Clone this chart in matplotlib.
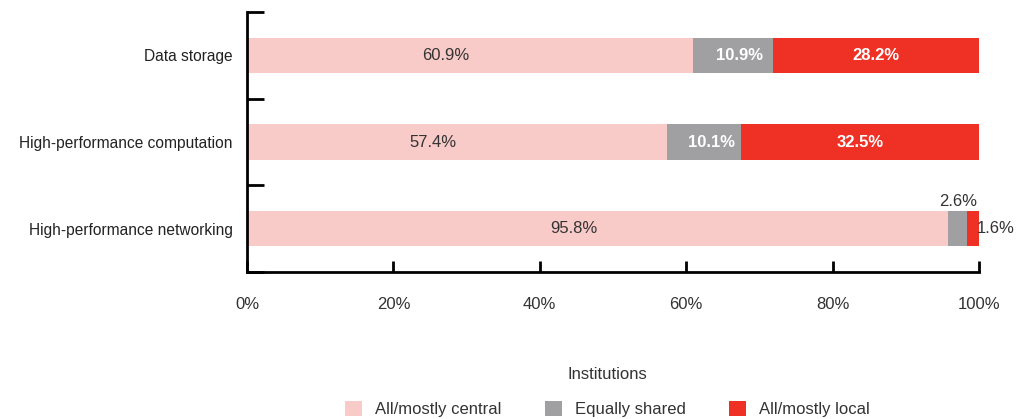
import matplotlib.pyplot as plt
import numpy as np
from matplotlib.patches import Patch

plt.rcParams['font.family'] = ['Liberation Sans', 'DejaVu Sans']

# datos
categories = ['Data storage', 'High-performance computation', 'High-performance networking']
central = [60.9, 57.4, 95.8]
shared = [10.9, 10.1, 2.6]
local = [28.2, 32.5, 1.6]
series_names = ['All/mostly central', 'Equally shared', 'All/mostly local']
colors = ['#F9CBC8', '#A0A0A2', '#EE3124']

fig = plt.figure(figsize=(10.16, 4.19), dpi=100)
ax = fig.add_axes([247 / 1016, 1 - 272 / 419, 732 / 1016, 260 / 419])

y = np.arange(len(categories))
h = 0.41
left = np.zeros(len(categories))
for vals, col in zip([central, shared, local], colors):
    ax.barh(y, vals, left=left, height=h, color=col, edgecolor='none')
    left = left + np.array(vals)

# etiquetas de valores
for i in range(len(categories)):
    ax.annotate(f'{central[i]}%', (central[i] / 2, i), xytext=(-24, 0), textcoords='offset pixels',
                ha='center', va='center', fontsize=12, color='#333333')
    if shared[i] > 5:
        ax.annotate(f'{shared[i]}%', (central[i] + shared[i] / 2, i), xytext=(7, 0), textcoords='offset pixels',
                    ha='center', va='center', fontsize=12, color='white', fontweight='bold')
        ax.text(central[i] + shared[i] + local[i] / 2, i, f'{local[i]}%',
                ha='center', va='center', fontsize=12, color='white', fontweight='bold')
    else:
        ax.text(central[i] + shared[i] / 2, i - h / 2 - 0.02, f'{shared[i]}%',
                ha='center', va='bottom', fontsize=12, color='#333333')
        ax.annotate(f'{local[i]}%', (100, i), xytext=(-2, 0), textcoords='offset pixels',
                    ha='left', va='center', fontsize=12, color='#333333')

ax.set_xlim(0, 100)
ax.set_ylim(2.5, -0.5)
ax.set_xticks(np.arange(0, 101, 20))
ax.set_xticklabels([f'{v}%' for v in range(0, 101, 20)], fontsize=12, color='#333333')
ax.set_yticks(y)
ax.set_yticklabels(categories, fontsize=11.2, color='#222222')
ax.tick_params(axis='y', which='major', length=0, pad=10.5)
ax.set_yticks([-0.5, 0.5, 1.5, 2.5], minor=True)
ax.tick_params(axis='y', which='minor', direction='in', length=12, width=2, color='black')
ax.tick_params(axis='x', direction='in', length=8, width=2, pad=18)

for s in ['top', 'right']:
    ax.spines[s].set_visible(False)
for s in ['left', 'bottom']:
    ax.spines[s].set_linewidth(2)

handles = [Patch(facecolor=c, edgecolor='none') for c in colors]
leg = fig.legend(handles, series_names, loc='lower center', bbox_to_anchor=(0.598, -0.032), ncol=3,
                 frameon=False, fontsize=12, title='Institutions', title_fontsize=12,
                 handlelength=1.0, handleheight=1.0, columnspacing=2.6, handletextpad=0.8)
for t in leg.get_texts():
    t.set_color('#333333')
leg.get_title().set_color('#333333')
leg._legend_box.sep = 14

fig.savefig('out.png', dpi=100)
